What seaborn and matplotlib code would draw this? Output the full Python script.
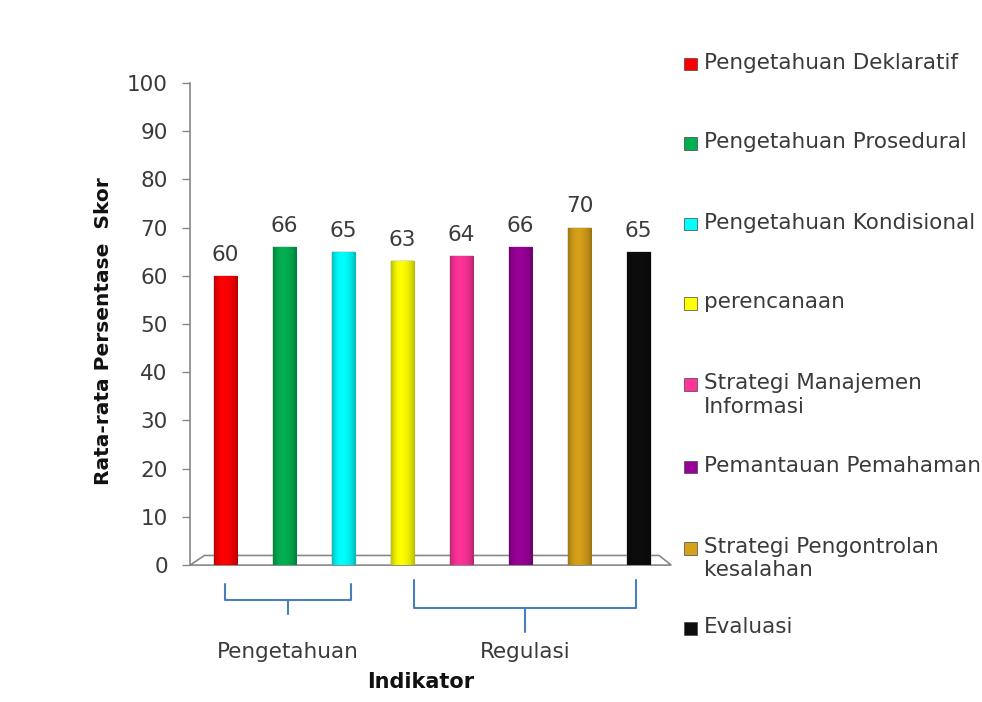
import matplotlib
matplotlib.use("Agg")
import numpy as np
import matplotlib.pyplot as plt
from matplotlib.colors import to_rgb
from matplotlib.patches import Polygon, Rectangle
import seaborn as sns

# Indicators and average percentage scores
indikator = [
    "Pengetahuan Deklaratif",
    "Pengetahuan Prosedural",
    "Pengetahuan Kondisional",
    "perencanaan",
    "Strategi Manajemen\nInformasi",
    "Pemantauan Pemahaman",
    "Strategi Pengontrolan\nkesalahan",
    "Evaluasi",
]
skor = [60, 66, 65, 63, 64, 66, 70, 65]
warna = ["#ff0000", "#00b050", "#00ffff", "#ffff00",
         "#ff3399", "#990099", "#d6a019", "#0d0d0d"]
yticks = [0, 10, 20, 30, 40, 50, 60, 70, 80, 90, 100]

# Group brackets: (label, first index, last index)
kelompok = [("Pengetahuan", 0, 2), ("Regulasi", 3, 7)]

sns.set_theme(style="white")
plt.rcParams["font.family"] = ["DejaVu Sans"]
FS = 15.5
TXT = "#3a3a3a"

fig = plt.figure(figsize=(9.82, 7.02), dpi=100)
ax = fig.add_axes([0.1935, 0.195, 0.49, 0.687])

sns.barplot(x=list(range(len(skor))), y=skor, hue=list(range(len(skor))),
            palette=warna, width=0.4, legend=False, dodge=False,
            saturation=1, ax=ax)

# Cylinder-like shading across each bar
shade = np.array([0.75, 0.9, 0.98, 1.0, 0.98, 0.93, 0.85, 0.72])
xs = np.linspace(0, 1, 64)
prof = np.interp(xs, np.linspace(0, 1, len(shade)), shade)
for cont in ax.containers:
    for bar in cont:
        rgb = np.array(to_rgb(bar.get_facecolor()))
        img = np.clip(rgb[None, None, :] * prof[None, :, None], 0, 1)
        x0, y0 = bar.get_x(), bar.get_y()
        w, h = bar.get_width(), bar.get_height()
        im = ax.imshow(img, extent=(x0, x0 + w, y0, y0 + h), aspect="auto",
                       interpolation="bilinear", zorder=bar.get_zorder() + 0.1)
        im.set_clip_path(bar)
        bar.set_edgecolor("#666666")
        bar.set_linewidth(0.3)
    ax.bar_label(cont, fontsize=FS, padding=8, color=TXT)

ax.set_ylim(0, 100)
ax.set_xlim(-0.6, 7.55)
ax.set_yticks(yticks)
ax.set_yticklabels([str(t) for t in yticks], fontsize=FS, color=TXT)
ax.set_xticks([])
ax.set_xlabel("")
ax.set_ylabel("Rata-rata Persentase  Skor", fontsize=14.5, fontweight="bold",
              color="#111111")
ax.yaxis.set_label_coords(-0.16, 0.485)
ax.tick_params(axis="y", left=True, length=6, width=1, color="#888888", pad=10)
for s in ["top", "right", "bottom"]:
    ax.spines[s].set_visible(False)
ax.spines["left"].set_color("#888888")
ax.spines["left"].set_linewidth(1.2)

# Floor of the chart, drawn behind the bars
floor = Polygon([(0.0, 0.0), (1.0, 0.0), (0.975, 0.02), (0.03, 0.02)],
                closed=True, transform=ax.transAxes, facecolor="white",
                edgecolor="#888888", linewidth=1.2, zorder=0.5, clip_on=False)
ax.add_patch(floor)

# Brackets below the axis grouping the indicators
trans = ax.get_xaxis_transform()
blue = "#4a7ebb"
for label, i0, i1 in kelompok:
    first = i0 == 0
    x0 = i0 if first else i0 + 0.2
    x1 = i1 + 0.12 if first else i1 - 0.05
    ytop = -0.04 if first else -0.03
    yb = -0.072 if first else -0.088
    ax.plot([x0, x0, x1, x1], [ytop, yb, yb, ytop], color=blue, lw=1.5,
            transform=trans, clip_on=False)
    xm = (x0 + x1) / 2
    ax.plot([xm, xm], [yb, yb - (0.03 if first else 0.05)], color=blue,
            lw=1.5, transform=trans, clip_on=False)
    ax.text(xm, -0.18, label, transform=trans, ha="center", va="center",
            fontsize=FS, color=TXT)

fig.text(0.428, 0.028, "Indikator", ha="center", va="center", fontsize=15,
         fontweight="bold", color="#111111")

# Legend on the right
centers = [0.909, 0.796, 0.681, 0.568, 0.452, 0.335, 0.219, 0.105]
for name, col, yc in zip(indikator, warna, centers):
    fig.patches.append(Rectangle((0.697, yc - 0.009), 0.013, 0.018,
                                 transform=fig.transFigure, facecolor=col,
                                 edgecolor="#444444", linewidth=0.5))
    fig.text(0.717, yc + 0.016, name, ha="left", va="top", fontsize=FS,
             color=TXT, linespacing=1.2)

fig.savefig("out.png", dpi=100, facecolor="white")
